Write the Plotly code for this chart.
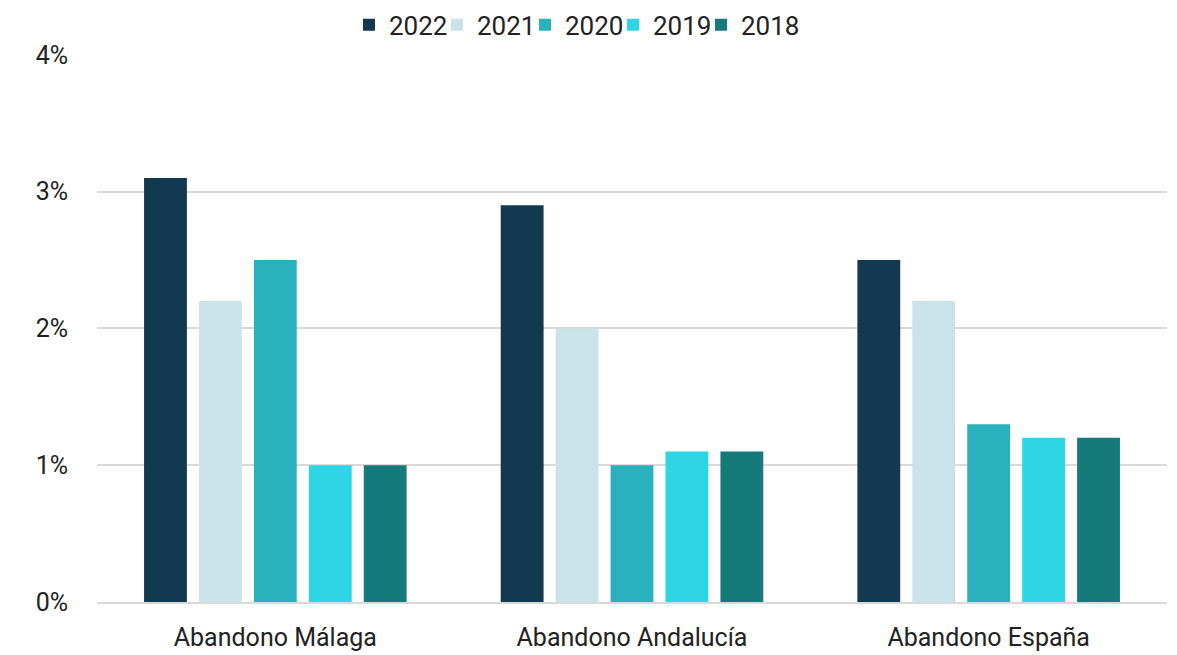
import plotly.graph_objects as go

categories = ["Abandono Málaga", "Abandono Andalucía", "Abandono España"]
years = ["2022", "2021", "2020", "2019", "2018"]
v2022 = [3.1, 2.9, 2.5]
v2021 = [2.2, 2.0, 2.2]
v2020 = [2.5, 1.0, 1.3]
v2019 = [1.0, 1.1, 1.2]
v2018 = [1.0, 1.1, 1.2]
series = [v2022, v2021, v2020, v2019, v2018]
colors = ["#12394F", "#C9E3E8", "#29B2BD", "#2ED6E5", "#177A7A"]
tickvals = [0, 1, 2, 3, 4]
ticktext = ["0%", "1%", "2%", "3%", "4%"]

fig = go.Figure()
for name, vals, col in zip(years, series, colors):
    fig.add_trace(go.Bar(name=name, x=categories, y=vals, marker_color=col,
                         marker_line_width=0))
# invisible spacer entry so the last legend label is not clipped
fig.add_trace(go.Scatter(x=[None], y=[None], mode="markers", name=" ",
                         marker=dict(color="rgba(0,0,0,0)", size=1,
                                     line=dict(width=0, color="rgba(0,0,0,0)")),
                         hoverinfo="skip"))

fig.update_layout(
    width=1177, height=655,
    paper_bgcolor="white", plot_bgcolor="white",
    barmode="group", bargap=0.23, bargroupgap=0.22,
    margin=dict(l=97, r=10, t=54, b=53, autoexpand=False),
    font=dict(family="Roboto", size=25, color="#222222"),
    legend=dict(orientation="h", x=349 / 1177, xanchor="left", xref="container",
                y=1.053, yanchor="middle", yref="paper",
                font=dict(size=26), traceorder="normal",
                itemwidth=30, entrywidth=43, tracegroupgap=0),
    showlegend=True,
)
fig.update_yaxes(range=[0, 4.006], tickvals=tickvals, ticktext=ticktext,
                 showgrid=True, gridcolor="#D9D9D9", gridwidth=2,
                 zeroline=False, showline=False, ticklabelstandoff=28,
                 tickfont=dict(size=25), automargin=False)
fig.update_xaxes(showline=True, linecolor="#D9D9D9", linewidth=2,
                 ticklabelstandoff=12, tickfont=dict(size=25), automargin=False)
fig.write_html("out.html", config={"displayModeBar": False},
               post_script="document.body.style.margin='0px';document.body.style.padding='0px';")
